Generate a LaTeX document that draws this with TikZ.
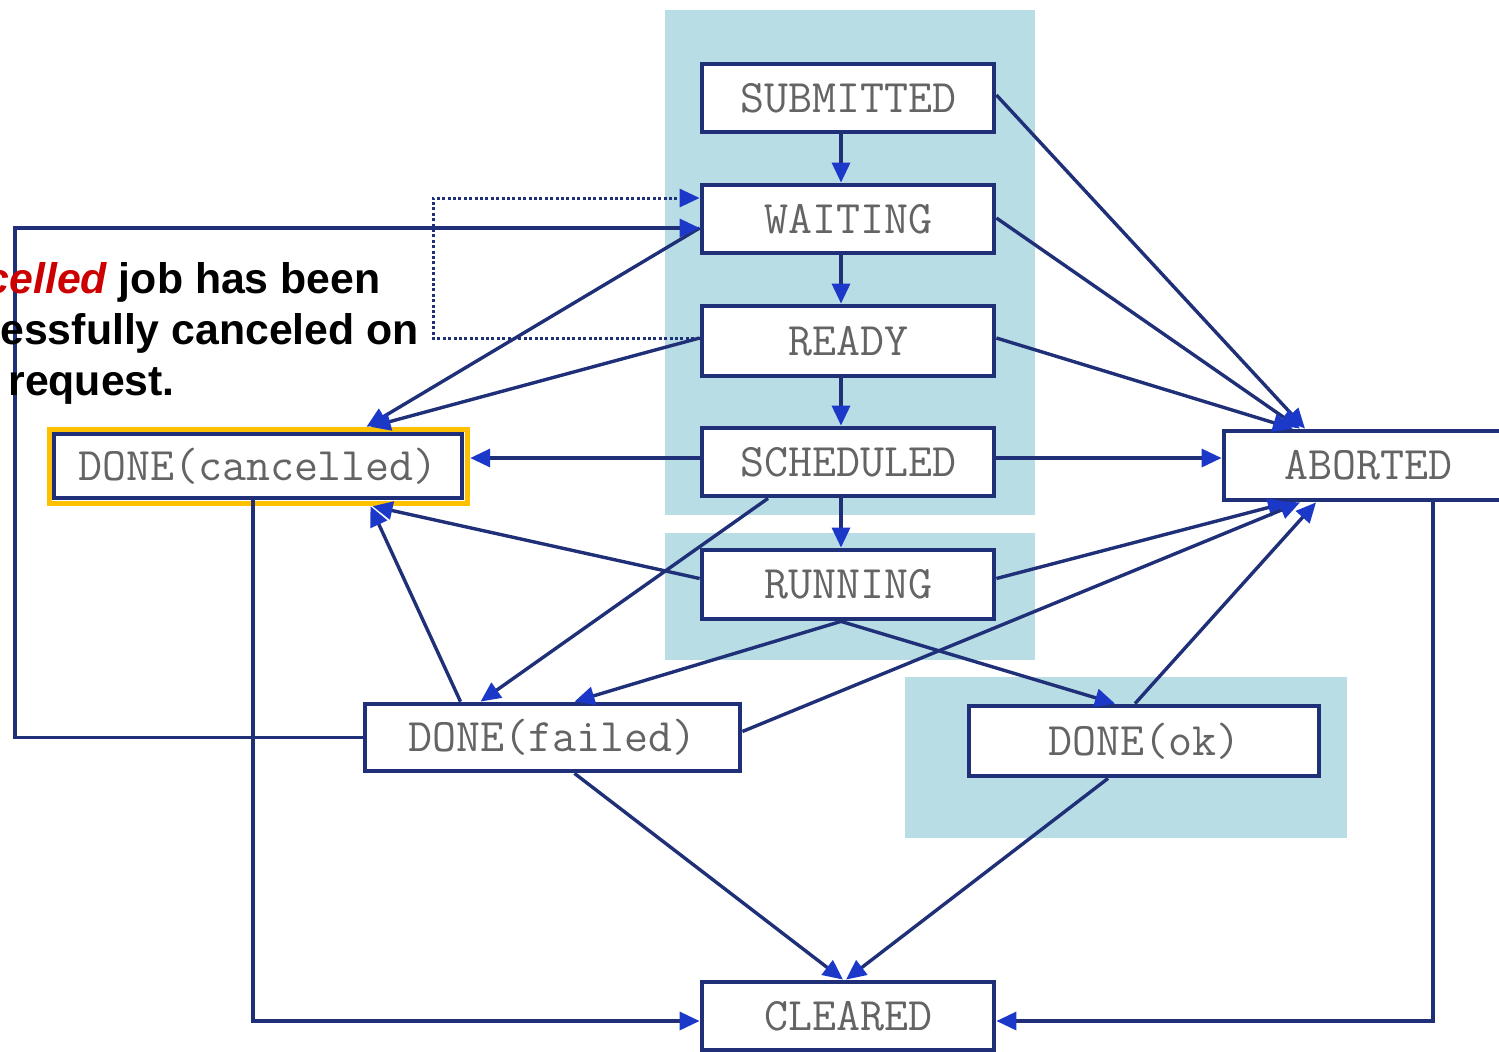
\documentclass[tikz,border=0pt]{standalone}
\usepackage{fontspec}
\newfontfamily\notefont{Liberation Sans}
\usetikzlibrary{arrows.meta,calc}
\definecolor{regionc}{RGB}{184,221,228}
\definecolor{linec}{RGB}{32,48,120}
\definecolor{tipc}{RGB}{28,56,200}
\definecolor{textc}{RGB}{100,100,100}
\definecolor{framec}{RGB}{255,192,0}
\definecolor{notered}{RGB}{204,0,0}
\newcommand{\monolabel}[1]{#1}
\tikzset{
  region/.style={fill=regionc, draw=none},
  statebox/.style={draw=linec, line width=2.4pt, fill=white, inner sep=0pt, text=textc,
    minimum width=146pt, minimum height=34pt, font=\ttfamily\fontsize{23.3}{26}\selectfont},
  arr/.style={draw=linec, line width=1.7pt, -{Triangle[length=10pt,width=9pt,color=tipc]}},
  dotarr/.style={arr, dash pattern=on 1.5pt off 1.2pt, line width=1.5pt},
  yellowframe/.style={draw=framec, line width=2.7pt, inner sep=0pt},
  notetext/.style={font=\notefont\bfseries\fontsize{21.4}{26}\selectfont, anchor=base west, inner sep=0pt}
}
\begin{document}
\begin{tikzpicture}[x=0.5pt,y=-0.5pt]
\useasboundingbox (0,0) rectangle (1499,1051);
% background regions
\fill[region] (665,10) rectangle (1035,515);
\fill[region] (665,533) rectangle (1035,660);
\fill[region] (905,677) rectangle (1347,838);

% states
\node[statebox] (sub) at (848,98) {\monolabel{SUBMITTED}};
\node[statebox] (wait) at (848,219) {\monolabel{WAITING}};
\node[statebox, minimum height=35pt] (ready) at (848,341) {\monolabel{READY}};
\node[statebox] (sched) at (848,462) {\monolabel{SCHEDULED}};
\node[statebox, minimum height=34.5pt] (run) at (848,584.5) {\monolabel{RUNNING}};
\node[statebox, minimum width=204pt, minimum height=32pt] (dc) at (258,466) {\monolabel{DONE(cancelled)}};
\node[yellowframe, minimum width=209pt, minimum height=37pt] (dcf) at (258.5,466.5) {};
\node[statebox, minimum width=144pt, minimum height=34.5pt] (ab) at (1368,465.5) {\monolabel{ABORTED}};
\node[statebox, minimum width=187.5pt, minimum height=33.5pt] (failed) at (552.5,737.5) {\monolabel{DONE(failed)}};
\node[statebox, minimum width=175pt, minimum height=35pt] (ok) at (1144,741) {\monolabel{DONE(ok)}};
\node[statebox] (clr) at (848,1016) {\monolabel{CLEARED}};

\coordinate (lx) at (15,0);
\coordinate (dx) at (433,0);
\coordinate (by) at (0,1021);

% main chain
\draw[arr] ([xshift=-3.5pt]sub.south) -- ([xshift=-3.5pt]wait.north);
\draw[arr] ([xshift=-3.5pt]wait.south) -- ([xshift=-3.5pt]ready.north);
\draw[arr] ([xshift=-3.5pt]ready.south) -- ([xshift=-3.5pt]sched.north);
\draw[arr] ([xshift=-3.5pt]sched.south) -- ([xshift=-3.5pt]run.north);

% to ABORTED
\draw[arr] ([yshift=1.5pt]sub.east) -- ([xshift=-31.5pt]ab.north);
\draw[arr] ([yshift=0.5pt]wait.east) -- ([xshift=-34pt]ab.north);
\draw[arr] ([yshift=1.5pt]ready.east) -- ([xshift=-37.5pt]ab.north);
\draw[arr] ([yshift=2pt]sched.east) -- ([yshift=2pt]sched.east -| ab.west);
\draw[arr] ([yshift=3pt]run.east) -- ([xshift=-40pt]ab.south);
\draw[arr] ([yshift=3pt]failed.east) -- ([xshift=-34pt]ab.south);
\draw[arr] ([xshift=-4.5pt]ok.north) -- ([xshift=-26pt]ab.south);

% to DONE(cancelled)
\draw[arr] ([yshift=2pt]sched.west) -- ([yshift=2pt]sched.west -| dcf.east);
\draw[arr] ([yshift=-4.5pt]wait.west) -- ([xshift=54pt]dcf.north);
\draw[arr] ([yshift=1.5pt]ready.west) -- ([xshift=56pt]dcf.north);
\draw[arr] ([yshift=3pt]run.west) -- ([xshift=57pt]dcf.south);
\draw[arr] ([xshift=-46pt]failed.north) -- ([xshift=56pt]dcf.south);

% to DONE(failed) / DONE(ok)
\draw[arr] ([xshift=-40pt]sched.south) -- ([xshift=-36pt]failed.north);
\draw[arr] ([xshift=-3.5pt]run.south) -- ([xshift=11pt]failed.north);
\draw[arr] ([xshift=-3.5pt]run.south) -- ([xshift=-14.5pt]ok.north);

% to CLEARED
\draw[arr] ([xshift=11pt]failed.south) -- ([xshift=-2.5pt]clr.north);
\draw[arr] ([xshift=-18pt]ok.south) -- ([xshift=-1pt]clr.north);
\draw[arr] ([xshift=-2.5pt]dc.south) -- ([xshift=-2.5pt]dc.south |- by) -- ([yshift=-2.5pt]clr.west);
\draw[arr] ([xshift=32.5pt]ab.south) -- ([xshift=32.5pt]ab.south |- by) -- ([yshift=-2.5pt]clr.east);

% resubmission loops
\draw[arr] (failed.west) -- (failed.west -| lx) |- ([yshift=-4.5pt]wait.west);
\draw[dotarr] ([yshift=1.5pt]ready.west) -- ([yshift=1.5pt]ready.west -| dx) |- ([yshift=10.5pt]wait.west);

% note text
\node[notetext, anchor=base east] (n1) at (381,293) {\textcolor{notered}{\itshape celled} job has been};
\node[notetext] (n2) at (0,344) {essfully canceled on};
\node[notetext] (n3) at (8,395) {request.};
\end{tikzpicture}
\end{document}
